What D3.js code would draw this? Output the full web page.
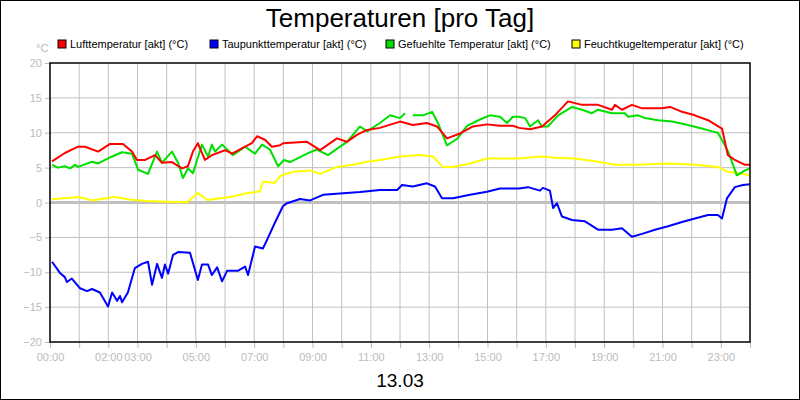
<!DOCTYPE html>
<html>
<head>
<meta charset="utf-8">
<script src="https://cdn.jsdelivr.net/npm/d3@7"></script>
<style>
body { margin: 0; background: #fff; }
svg { font-family: "Liberation Sans", Arial, sans-serif; }
</style>
</head>
<body>
<div id="chart"></div>
<script>
"use strict";

// data: [hour, value]
var lufttemp = [[0.07,5.9],[0.51,7.1],[0.96,8.0],[1.2,8.0],[1.65,7.3],[2.06,8.4],[2.5,8.4],[2.81,7.3],[2.98,6.1],[3.26,6.1],[3.6,6.8],[3.84,5.7],[4.18,5.8],[4.53,4.9],[4.73,5.2],[4.9,7.3],[5.07,8.5],[5.31,6.1],[5.55,6.8],[6.0,7.5],[6.24,7.0],[6.69,8.0],[6.92,8.5],[7.1,9.5],[7.37,9.0],[7.61,8.0],[7.89,8.2],[7.99,8.5],[8.81,8.7],[9.26,7.5],[9.84,9.2],[10.18,8.7],[10.52,9.7],[10.87,10.4],[11.31,10.7],[12.0,11.6],[12.44,11.1],[12.92,11.4],[13.27,10.9],[13.61,9.2],[14.06,9.9],[14.5,10.9],[14.98,11.2],[15.43,11.0],[15.87,11.0],[16.08,10.7],[16.46,10.5],[16.87,10.9],[17.31,12.5],[17.76,14.5],[18.24,14.0],[18.79,14.0],[19.27,13.3],[19.37,14.0],[19.61,13.3],[19.95,14.0],[20.3,13.5],[20.98,13.5],[21.26,13.7],[21.67,13.0],[22.11,12.5],[22.56,11.8],[23.04,10.6],[23.24,6.8],[23.48,6.1],[23.83,5.4],[24,5.4]];

var taupunkt = [[0.07,-8.5],[0.34,-10.1],[0.51,-10.7],[0.58,-11.4],[0.75,-10.9],[1.03,-12.3],[1.27,-12.7],[1.44,-12.4],[1.71,-12.9],[1.99,-14.9],[2.13,-12.9],[2.3,-14.1],[2.4,-13.4],[2.47,-14.3],[2.67,-12.9],[2.91,-9.4],[3.15,-8.8],[3.36,-8.5],[3.5,-11.8],[3.67,-8.8],[3.84,-10.8],[3.94,-8.9],[4.05,-10.2],[4.22,-7.5],[4.39,-7.1],[4.8,-7.2],[5.07,-11.1],[5.21,-8.9],[5.42,-8.9],[5.55,-10.4],[5.73,-9.3],[5.9,-11.3],[6.07,-9.8],[6.44,-9.8],[6.69,-9.2],[6.79,-10.4],[7.03,-6.3],[7.3,-6.6],[7.47,-5.1],[7.71,-2.9],[7.99,-0.5],[8.13,-0.1],[8.57,0.5],[8.92,0.3],[9.36,1.1],[9.94,1.3],[10.63,1.5],[11.31,1.8],[11.9,1.8],[12.07,2.5],[12.44,2.3],[12.92,2.75],[13.2,2.3],[13.44,0.6],[13.82,0.6],[14.4,1.1],[14.98,1.55],[15.43,2.0],[16.08,2.0],[16.39,2.2],[16.8,1.7],[16.9,2.1],[17.14,1.7],[17.25,-0.8],[17.38,-0.1],[17.55,-2.0],[17.9,-2.5],[18.34,-2.7],[18.79,-3.9],[19.27,-3.9],[19.61,-3.7],[19.95,-4.9],[20.3,-4.5],[20.74,-3.9],[21.19,-3.4],[21.67,-2.8],[22.11,-2.3],[22.56,-1.8],[22.9,-1.8],[23.04,-2.3],[23.21,0.6],[23.48,2.2],[23.76,2.5],[24,2.6]];

// null value = gap in the line
var gefuehlt = [[0.07,5.4],[0.27,5.0],[0.51,5.2],[0.69,4.9],[0.86,5.4],[0.96,5.1],[1.44,5.85],[1.65,5.6],[2.13,6.6],[2.47,7.2],[2.81,7.0],[3.02,4.7],[3.36,4.1],[3.67,7.3],[3.84,5.7],[4.18,7.3],[4.39,5.7],[4.56,3.5],[4.73,4.9],[4.9,4.2],[5.21,8.3],[5.42,6.6],[5.55,8.3],[5.66,7.3],[5.9,8.3],[6.27,6.8],[6.69,8.0],[7.03,7.0],[7.27,8.3],[7.54,7.6],[7.82,5.2],[8.02,6.1],[8.23,5.8],[8.81,7.0],[9.15,7.6],[9.53,6.8],[10.18,8.7],[10.63,10.9],[10.87,10.2],[11.31,11.4],[11.66,12.5],[12.0,12.1],[12.17,12.8],[12.3,null],[12.44,12.5],[12.79,12.5],[13.1,13.0],[13.3,11.4],[13.61,8.2],[13.95,9.1],[14.3,11.0],[14.74,11.9],[15.08,12.5],[15.43,12.3],[15.67,11.4],[15.87,12.3],[16.08,12.3],[16.29,12.1],[16.46,10.9],[16.73,11.8],[16.87,10.9],[17.07,10.9],[17.42,12.5],[17.9,13.7],[18.24,13.3],[18.58,12.8],[18.79,13.3],[19.27,12.8],[19.71,12.8],[19.82,12.3],[20.16,12.5],[20.4,12.1],[20.85,11.8],[21.33,11.6],[21.87,11.1],[22.35,10.6],[22.7,10.2],[22.9,10.0],[23.24,7.4],[23.55,3.9],[23.83,4.6],[24,4.9]];

var feuchtkugel = [[0.07,0.45],[1.0,0.8],[1.44,0.3],[2.2,0.8],[2.8,0.4],[3.3,0.2],[4.0,0.1],[4.7,0.05],[5.07,1.35],[5.4,0.35],[6.27,0.85],[6.7,1.3],[7.2,1.6],[7.3,3.0],[7.7,2.8],[7.9,3.8],[8.02,4.0],[8.33,4.4],[8.92,4.6],[9.26,4.1],[9.84,5.1],[10.39,5.4],[10.87,5.85],[11.31,6.1],[12.0,6.6],[12.68,6.8],[13.13,6.6],[13.47,5.1],[13.82,5.1],[14.4,5.6],[14.98,6.3],[16.08,6.3],[16.87,6.6],[17.31,6.4],[18.0,6.3],[18.79,5.85],[19.37,5.4],[20.16,5.4],[21.19,5.6],[22.11,5.4],[22.9,5.1],[23.24,4.4],[23.59,4.2],[24,3.9]];

var seriesNames = ["Lufttemperatur [akt] (°C)", "Taupunkttemperatur [akt] (°C)", "Gefuehlte Temperatur [akt] (°C)", "Feuchtkugeltemperatur [akt] (°C)"];
var seriesColors = ["#ff0000", "#0000ff", "#00e000", "#ffff00"];
var seriesData = [lufttemp, taupunkt, gefuehlt, feuchtkugel];
var legendX = [58, 210, 386, 572];
var yTicks = [-20, -15, -10, -5, 0, 5, 10, 15, 20];
var xLabelHours = [0, 2, 3, 5, 7, 9, 11, 13, 15, 17, 19, 21, 23];

var W = 800, H = 400;
var margin = { top: 63, right: 50, bottom: 58, left: 50 };
var width = W - margin.left - margin.right;
var height = H - margin.top - margin.bottom;

var root = d3.select("#chart").append("svg")
    .attr("width", W).attr("height", H);

// outer frame
root.append("rect")
    .attr("x", 0.5).attr("y", 0.5)
    .attr("width", W - 1).attr("height", H - 1)
    .attr("fill", "#fff").attr("stroke", "#000");

root.append("text")
    .attr("x", W / 2).attr("y", 27)
    .attr("text-anchor", "middle")
    .style("font-size", "26px")
    .text("Temperaturen [pro Tag]");

// legend
var legend = root.selectAll(".legend")
    .data(seriesNames)
    .join("g")
    .attr("transform", (d, i) => `translate(${legendX[i]},40)`);

legend.append("rect")
    .attr("width", 8).attr("height", 8)
    .attr("fill", (d, i) => seriesColors[i])
    .attr("stroke", "#000");

legend.append("text")
    .attr("x", 12).attr("y", 8)
    .style("font-size", "11px")
    .text(d => d);

root.append("text")
    .attr("x", 36).attr("y", 52)
    .attr("fill", "#bbb")
    .style("font-size", "11px")
    .text("°C");

var svg = root.append("g")
    .attr("transform", `translate(${margin.left},${margin.top})`);

// scales
var x = d3.scaleLinear().domain([0, 24]).range([0, width]);
var y = d3.scaleLinear().domain([-20, 20]).range([height, 0]);

// grid
svg.append("g")
    .selectAll("line")
    .data(d3.range(1, 24))
    .join("line")
    .attr("x1", d => x(d)).attr("x2", d => x(d))
    .attr("y1", 0).attr("y2", height)
    .attr("stroke", "#c0c0c0");

svg.append("g")
    .selectAll("line")
    .data(yTicks.filter(d => d > -20 && d < 20))
    .join("line")
    .attr("x1", 0).attr("x2", width)
    .attr("y1", d => y(d)).attr("y2", d => y(d))
    .attr("stroke", "#c0c0c0")
    .attr("stroke-width", d => d === 0 ? 3 : 1);

// axes
var yAxis = svg.append("g")
    .call(d3.axisLeft(y).tickValues(yTicks).tickSize(5).tickPadding(3));
var xAxis = svg.append("g")
    .attr("transform", `translate(0,${height})`)
    .call(d3.axisBottom(x).tickValues(d3.range(0, 25))
        .tickSize(6).tickPadding(5)
        .tickFormat(d => xLabelHours.includes(d) ? d3.format("02d")(d) + ":00" : ""));

[xAxis, yAxis].forEach(a => {
    a.select(".domain").remove();
    a.selectAll("line").attr("stroke", "#bbb");
    a.selectAll("text").attr("fill", "#bbb").style("font-size", "11px")
        .style("font-family", "Liberation Sans, Arial, sans-serif");
});

// lines
var line = d3.line()
    .defined(d => d[1] !== null)
    .x(d => x(d[0]))
    .y(d => y(d[1]));

[3, 2, 0, 1].forEach(i => {
    svg.append("path")
        .datum(seriesData[i])
        .attr("fill", "none")
        .attr("stroke", seriesColors[i])
        .attr("stroke-width", 2)
        .attr("stroke-linejoin", "round")
        .attr("d", line);
});

// plot frame
svg.append("rect")
    .attr("width", width).attr("height", height)
    .attr("fill", "none").attr("stroke", "#000").attr("stroke-width", 1.5);

root.append("text")
    .attr("x", W / 2).attr("y", 387)
    .attr("text-anchor", "middle")
    .style("font-size", "19px")
    .text("13.03");
</script>
</body>
</html>
